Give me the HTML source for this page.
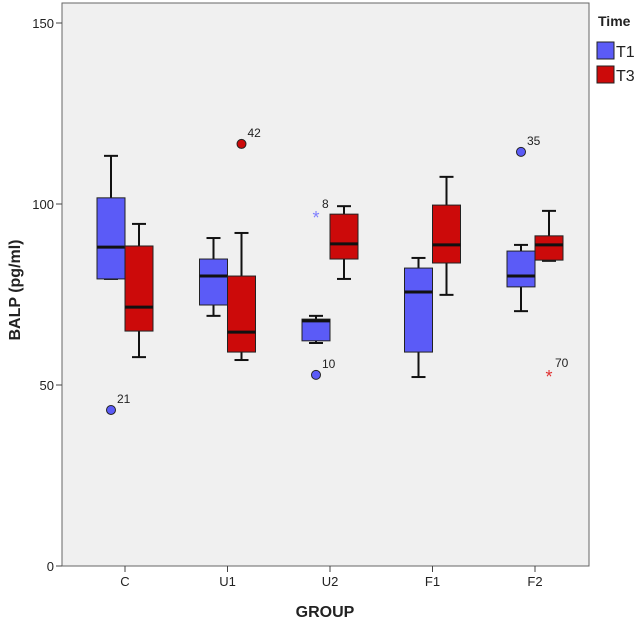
<!DOCTYPE html>
<html><head><meta charset="utf-8"><style>
body{margin:0;background:#fff;}
svg{display:block;font-family:"Liberation Sans",Arial,sans-serif;}
</style></head><body>
<svg width="644" height="626">
<rect x="62" y="3" width="527" height="563" fill="#f0f0f0" stroke="#666" stroke-width="1"/>
<g id="axes"></g>
<g id="marks"></g>
<text x="20" y="290" transform="rotate(-90 20 290)" text-anchor="middle" font-size="16" font-weight="bold" fill="#222">BALP  (pg/ml)</text>
<text x="325" y="617" text-anchor="middle" font-size="16" font-weight="bold" fill="#222">GROUP</text>
<g>
<text x="598" y="26" font-size="14" font-weight="bold" fill="#222">Time</text>
<g><rect x="597" y="42" width="17" height="17" fill="#5b5bf7" stroke="#222"/><text x="616" y="57" font-size="16" fill="#222">T1</text></g>
<g><rect x="597" y="66" width="17" height="17" fill="#cc0a0a" stroke="#222"/><text x="616" y="81" font-size="16" fill="#222">T3</text></g>
</g>
</svg>
<script>
const categories=["C","U1","U2","F1","F2"];
const t1Low=[79.3,69.1,61.6,52.2,70.4];
const t1Q1=[79.3,72.1,62.2,59.1,77.1];
const t1Median=[88.1,80.1,67.7,75.7,80.1];
const t1Q3=[101.7,84.8,68.2,82.3,87.0];
const t1High=[113.3,90.6,69.1,85.1,88.7];
const t3Low=[57.7,56.9,79.3,74.9,84.3];
const t3Q1=[64.9,59.1,84.8,83.7,84.5];
const t3Median=[71.5,64.6,89.0,88.7,88.7];
const t3Q3=[88.4,80.1,97.2,99.7,91.2];
const t3High=[94.5,92.0,99.4,107.5,98.1];
const outlierGroup=[0,1,2,2,4,4];
const outlierSeries=[0,1,0,0,0,1];
const outlierValue=[43.1,116.6,52.8,97.0,114.4,53.0];
const outlierLabel=["21","42","10","8","35","70"];
const outlierStar=[false,false,false,true,false,true];
const yTicks=[0,50,100,150];

const NS="http://www.w3.org/2000/svg";
function yS(v){return 566-v*3.62;}
function xc(i){return 125+i*102.5;}
function mk(tag,attrs,parent){const e=document.createElementNS(NS,tag);for(const k in attrs)e.setAttribute(k,attrs[k]);parent.appendChild(e);return e;}
const axes=document.getElementById('axes'),marks=document.getElementById('marks');
yTicks.forEach(t=>{
  const l=mk('line',{x1:56,x2:62,y1:yS(t),y2:yS(t),stroke:'#444'},axes);
  
  
  const tx=mk('text',{x:54,y:yS(t)+5,'text-anchor':'end','font-size':13,fill:'#222'},axes);
  tx.textContent=t;
  
  
});
categories.forEach((c,i)=>{
  const l=mk('line',{x1:xc(i),x2:xc(i),y1:566,y2:572,stroke:'#444'},axes);
  
  
  const tx=mk('text',{x:xc(i),y:586,'text-anchor':'middle','font-size':13,fill:'#222'},axes);
  tx.textContent=c;
  
  
});
const series=[
 {low:t1Low,q1:t1Q1,med:t1Median,q3:t1Q3,high:t1High,color:'#5b5bf7',off:-14,name:'t1'},
 {low:t3Low,q1:t3Q1,med:t3Median,q3:t3Q3,high:t3High,color:'#cc0a0a',off:14,name:'t3'}];
series.forEach(s=>{
  categories.forEach((c,i)=>{
    const cx=xc(i)+s.off;
    const hi=yS(s.high[i]),lo=yS(s.low[i]),q1=yS(s.q1[i]),q3=yS(s.q3[i]),md=yS(s.med[i]);
    const g=mk('g',{},marks);
    
    
    mk('line',{x1:cx,x2:cx,y1:hi,y2:lo,stroke:'#111','stroke-width':2},g);
    mk('line',{x1:cx-7,x2:cx+7,y1:hi,y2:hi,stroke:'#111','stroke-width':2},g);
    mk('line',{x1:cx-7,x2:cx+7,y1:lo,y2:lo,stroke:'#111','stroke-width':2},g);
    mk('rect',{x:cx-14,y:q3,width:28,height:Math.max(1,q1-q3),fill:s.color,stroke:'#222','stroke-width':1},g);
    mk('line',{x1:cx-14,x2:cx+14,y1:md,y2:md,stroke:'#111','stroke-width':3},g);
  });
});
outlierValue.forEach((v,k)=>{
  const cx=xc(outlierGroup[k])+(outlierSeries[k]?14:-14);
  const col=outlierSeries[k]?'#cc0a0a':'#5b5bf7';
  const g=mk('g',{},marks);
  
  
  if(outlierStar[k]){
    const t=mk('text',{x:cx,y:yS(v)+9,'text-anchor':'middle','font-size':18,fill:outlierSeries[k]?'#e03030':'#8080ff'},g);
    t.textContent='*';
  } else {
    mk('circle',{cx:cx,cy:yS(v),r:4.5,fill:col,stroke:'#222','stroke-width':1},g);
  }
  const lb=mk('text',{x:cx+6,y:yS(v)-7,'font-size':12,fill:'#222'},g);
  lb.textContent=outlierLabel[k];
});
</script>
</body></html>
